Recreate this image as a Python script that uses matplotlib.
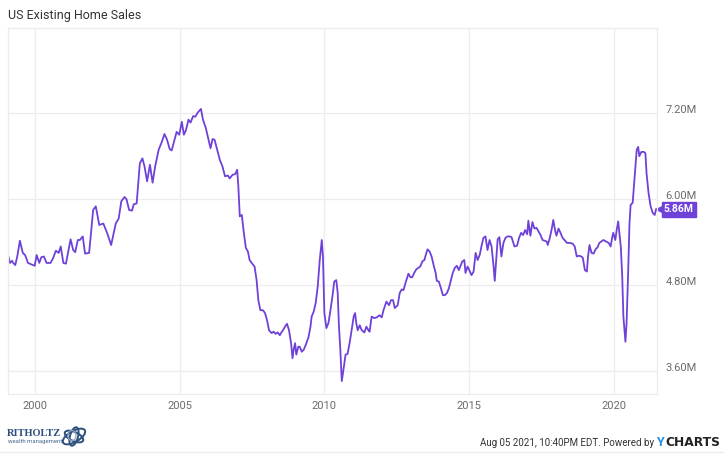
import numpy as np
import matplotlib
matplotlib.use('Agg')
import matplotlib.pyplot as plt
import matplotlib.transforms as mtransforms
from matplotlib.patches import Ellipse

# decimal year / sales (millions, SAAR)
years = [
    1999.08, 1999.15, 1999.22, 1999.26, 1999.33, 1999.40, 1999.49, 1999.59, 1999.67, 1999.77,
    1999.95, 2000.00, 2000.07, 2000.16, 2000.23, 2000.32, 2000.41, 2000.55, 2000.64, 2000.73,
    2000.83, 2000.90, 2000.99, 2001.08, 2001.15, 2001.24, 2001.33, 2001.40, 2001.49, 2001.56,
    2001.66, 2001.74, 2001.88, 2002.02, 2002.11, 2002.23, 2002.37, 2002.50, 2002.64, 2002.80,
    2002.90, 2002.99, 2003.10, 2003.17, 2003.26, 2003.36, 2003.42, 2003.52, 2003.63, 2003.72,
    2003.79, 2003.88, 2003.98, 2004.07, 2004.16, 2004.28, 2004.39, 2004.48, 2004.57, 2004.66,
    2004.73, 2004.83, 2004.90, 2004.99,
    2005.08, 2005.15, 2005.22, 2005.31, 2005.38, 2005.47, 2005.54, 2005.63, 2005.74, 2005.81,
    2005.91, 2006.00, 2006.07, 2006.14, 2006.21, 2006.30, 2006.39, 2006.48, 2006.57, 2006.67,
    2006.73, 2006.83, 2006.92, 2006.99, 2007.03, 2007.08, 2007.15, 2007.22, 2007.29, 2007.36,
    2007.42, 2007.49, 2007.59, 2007.66, 2007.72, 2007.79, 2007.88, 2007.95, 2008.02, 2008.09,
    2008.18, 2008.25, 2008.32, 2008.39, 2008.46, 2008.50, 2008.57, 2008.64, 2008.71, 2008.78,
    2008.85, 2008.90, 2008.94, 2008.99, 2009.03, 2009.10, 2009.15, 2009.22, 2009.29, 2009.36,
    2009.45, 2009.52, 2009.56, 2009.63, 2009.70, 2009.77, 2009.84, 2009.91, 2009.95, 2010.00,
    2010.07, 2010.14, 2010.21, 2010.28, 2010.34, 2010.41, 2010.46, 2010.50,
    2010.55, 2010.60, 2010.64, 2010.69, 2010.73, 2010.80, 2010.87, 2010.94, 2011.01, 2011.06,
    2011.10, 2011.15, 2011.22, 2011.29, 2011.38, 2011.45, 2011.52, 2011.56, 2011.63, 2011.72,
    2011.81, 2011.90, 2011.98, 2012.04, 2012.14, 2012.23, 2012.30, 2012.37, 2012.43, 2012.53,
    2012.60, 2012.67, 2012.73, 2012.80, 2012.90, 2012.97, 2013.03, 2013.10, 2013.17, 2013.24,
    2013.31, 2013.38, 2013.45, 2013.52, 2013.56, 2013.63, 2013.70, 2013.77, 2013.84, 2013.88,
    2013.95, 2014.02, 2014.09, 2014.16, 2014.23, 2014.30, 2014.37, 2014.43, 2014.50, 2014.57,
    2014.64, 2014.69, 2014.76, 2014.83, 2014.87, 2014.94, 2015.01,
    2015.08, 2015.15, 2015.22, 2015.29, 2015.36, 2015.43, 2015.49, 2015.56, 2015.63, 2015.70,
    2015.77, 2015.84, 2015.88, 2015.93, 2015.98, 2016.04, 2016.11, 2016.18, 2016.25, 2016.32,
    2016.39, 2016.46, 2016.56,
    2016.65, 2016.72, 2016.79, 2016.86, 2016.93, 2017.00, 2017.04, 2017.11, 2017.18, 2017.25,
    2017.32, 2017.39, 2017.46, 2017.53, 2017.60, 2017.67, 2017.71, 2017.78, 2017.85, 2017.90,
    2017.97, 2018.01, 2018.08,
    2018.15, 2018.22, 2018.29, 2018.37, 2018.46, 2018.57, 2018.64, 2018.71, 2018.78, 2018.87,
    2018.92, 2018.99, 2019.06, 2019.10, 2019.15, 2019.22, 2019.29, 2019.36, 2019.43, 2019.49,
    2019.56, 2019.63, 2019.72, 2019.81, 2019.88, 2019.93, 2019.97, 2020.04, 2020.09, 2020.14,
    2020.18, 2020.23, 2020.28, 2020.32, 2020.39, 2020.43, 2020.48, 2020.53, 2020.57, 2020.64,
    2020.71, 2020.78, 2020.83, 2020.87, 2020.94, 2021.03, 2021.08, 2021.12, 2021.19, 2021.26,
    2021.33, 2021.40, 2021.45,
]
sales = [
    5.22, 5.11, 5.14, 5.11, 5.08, 5.20, 5.42, 5.25, 5.22, 5.11,
    5.08, 5.07, 5.22, 5.11, 5.19, 5.20, 5.11, 5.11, 5.18, 5.28,
    5.25, 5.34, 5.11, 5.10, 5.25, 5.44, 5.29, 5.26, 5.43, 5.43,
    5.48, 5.24, 5.25, 5.85, 5.90, 5.64, 5.66, 5.53, 5.36, 5.66,
    5.73, 5.97, 6.03, 6.00, 5.85, 5.84, 5.93, 5.94, 6.50, 6.57,
    6.46, 6.25, 6.48, 6.23, 6.46, 6.69, 6.80, 6.91, 6.83, 6.70,
    6.68, 6.83, 6.94, 6.90,
    7.08, 6.90, 6.96, 7.11, 7.07, 7.16, 7.15, 7.21, 7.26, 7.11,
    6.99, 6.83, 6.71, 6.84, 6.83, 6.69, 6.55, 6.46, 6.32, 6.33,
    6.29, 6.34, 6.35, 6.41, 6.18, 5.76, 5.78, 5.53, 5.32, 5.27,
    5.15, 5.11, 5.06, 4.87, 4.59, 4.45, 4.45, 4.41, 4.31, 4.17,
    4.13, 4.15, 4.12, 4.14, 4.10, 4.13, 4.17, 4.22, 4.26, 4.17,
    3.99, 3.78, 3.90, 3.99, 3.83, 3.94, 3.94, 3.87, 3.90, 3.97,
    4.07, 4.22, 4.36, 4.43, 4.55, 4.78, 5.15, 5.43, 5.20, 4.41,
    4.20, 4.27, 4.45, 4.65, 4.85, 4.87, 4.69, 4.25,
    3.90, 3.46, 3.57, 3.71, 3.83, 3.84, 3.99, 4.17, 4.36, 4.41,
    4.27, 4.17, 4.24, 4.17, 4.14, 4.22, 4.17, 4.15, 4.36, 4.34,
    4.35, 4.38, 4.35, 4.45, 4.57, 4.52, 4.59, 4.59, 4.48, 4.52,
    4.69, 4.74, 4.73, 4.83, 4.96, 4.91, 4.91, 4.97, 5.02, 5.04,
    5.06, 5.13, 5.15, 5.25, 5.30, 5.27, 5.20, 5.08, 4.97, 4.86,
    4.85, 4.76, 4.66, 4.66, 4.69, 4.76, 4.87, 4.97, 5.04, 5.07,
    5.01, 5.06, 5.13, 5.15, 4.97, 5.06, 5.00,
    4.94, 4.99, 5.25, 5.15, 5.22, 5.36, 5.46, 5.48, 5.29, 5.43,
    5.34, 5.06, 4.86, 5.15, 5.44, 5.47, 5.20, 5.39, 5.46, 5.48,
    5.48, 5.47, 5.34,
    5.35, 5.46, 5.53, 5.50, 5.57, 5.51, 5.70, 5.49, 5.68, 5.59,
    5.60, 5.55, 5.50, 5.43, 5.42, 5.41, 5.36, 5.46, 5.59, 5.71,
    5.55, 5.49, 5.59,
    5.53, 5.46, 5.43, 5.39, 5.39, 5.38, 5.34, 5.20, 5.21, 5.20,
    5.18, 5.01, 4.99, 5.20, 5.36, 5.25, 5.24, 5.30, 5.33, 5.39,
    5.41, 5.43, 5.41, 5.39, 5.34, 5.46, 5.53, 5.43, 5.57, 5.69,
    5.53, 5.34, 4.92, 4.36, 4.01, 4.27, 4.92, 5.66, 5.92, 5.95,
    6.32, 6.69, 6.73, 6.60, 6.66, 6.66, 6.64, 6.36, 6.08, 5.90,
    5.81, 5.78, 5.86,
]

xticks = [2000, 2005, 2010, 2015, 2020]
yticks = [3.6, 4.8, 6.0, 7.2]
ylabels = ['3.60M', '4.80M', '6.00M', '7.20M']
last_label = '5.86M'

LINE = '#6e42d9'
GRID = '#ececec'
TXT = '#6b6b6b'

plt.rcParams['font.family'] = ['Roboto', 'DejaVu Sans']

fig = plt.figure(figsize=(7.24, 4.58), dpi=100, facecolor='white')
ax = fig.add_axes([8/724, 64/458, 649/724, 366/458])

ax.plot(years, sales, color=LINE, lw=1.3, solid_joinstyle='round')

ax.set_xlim(1999.08, 2021.48)
ax.set_ylim(3.28, 8.39)
ax.set_xticks(xticks)
ax.set_xticklabels([str(y) for y in xticks])
ax.set_yticks(yticks)
ax.set_yticklabels(ylabels)
ax.yaxis.tick_right()
ax.grid(True, color=GRID, lw=0.9)
ax.set_axisbelow(True)
ax.tick_params(length=0, labelsize=8, labelcolor=TXT)
ax.tick_params(axis='x', pad=5)
ax.tick_params(axis='y', pad=6)
for s in ax.spines.values():
    s.set_color(GRID)
    s.set_linewidth(0.9)

# ycharts puts the right labels a little above their gridlines
up = mtransforms.ScaledTranslation(0, 4/100, fig.dpi_scale_trans)
for lab in ax.get_yticklabels():
    lab.set_transform(lab.get_transform() + up)

# last value flag: small pointer + box
trans = mtransforms.blended_transform_factory(ax.transAxes, ax.transData)
ax.plot([1.0 + 3/649], [sales[-1]], marker='<', ms=6, color=LINE, mec=LINE,
        transform=trans, clip_on=False)
ax.text(1.0 + 7/649, sales[-1], last_label, transform=trans, fontsize=7.5,
        fontweight='bold', color='white', va='center', ha='left',
        bbox=dict(boxstyle='square,pad=0.22', fc=LINE, ec=LINE), clip_on=False)

fig.text(8/724, 1 - 15/458, 'US Existing Home Sales', fontsize=9, color='#333333',
         va='center', ha='left')

# footer
fig.text(654/724, 1 - 443/458, 'Aug 05 2021, 10:40PM EDT. Powered by', fontsize=7,
         color='#333333', va='center', ha='right')
fig.text(656/724, 1 - 443/458, 'Y', fontsize=9, fontweight='bold', color='#1a8fe3',
         va='center', ha='left')
fig.text(665/724, 1 - 443/458, 'CHARTS', fontsize=8.8, fontweight='bold',
         color='#222222', va='center', ha='left', family='DejaVu Sans')
fig.add_artist(plt.Line2D([0, 1], [1 - 452/458, 1 - 452/458], color=GRID, lw=0.9,
                          transform=fig.transFigure))

# ritholtz logo
fig.text(7/724, 1 - 433/458, 'RITHOLTZ', fontsize=7.5, fontweight='bold', color='#2d4f7c',
         family='Liberation Serif', va='center', ha='left')
fig.text(8/724, 1 - 442/458, 'wealth management', fontsize=4.3, color='#4a6a92',
         va='center', ha='left')
lax = fig.add_axes([60/724, 1 - 449/458, 28/724, 25/458])
lax.set_xlim(0, 28)
lax.set_ylim(0, 25)
lax.axis('off')
for ang, w, h in [(30, 25, 11), (-25, 20, 9), (75, 19, 8)]:
    lax.add_patch(Ellipse((14, 12.5), w, h, angle=ang, fill=False, ec='#2d4f7c', lw=1.4))
lax.add_patch(Ellipse((12, 13.5), 8, 10, fill=False, ec='#8aa4c4', lw=0.9))

fig.savefig('out.png', dpi=100, facecolor='white')
